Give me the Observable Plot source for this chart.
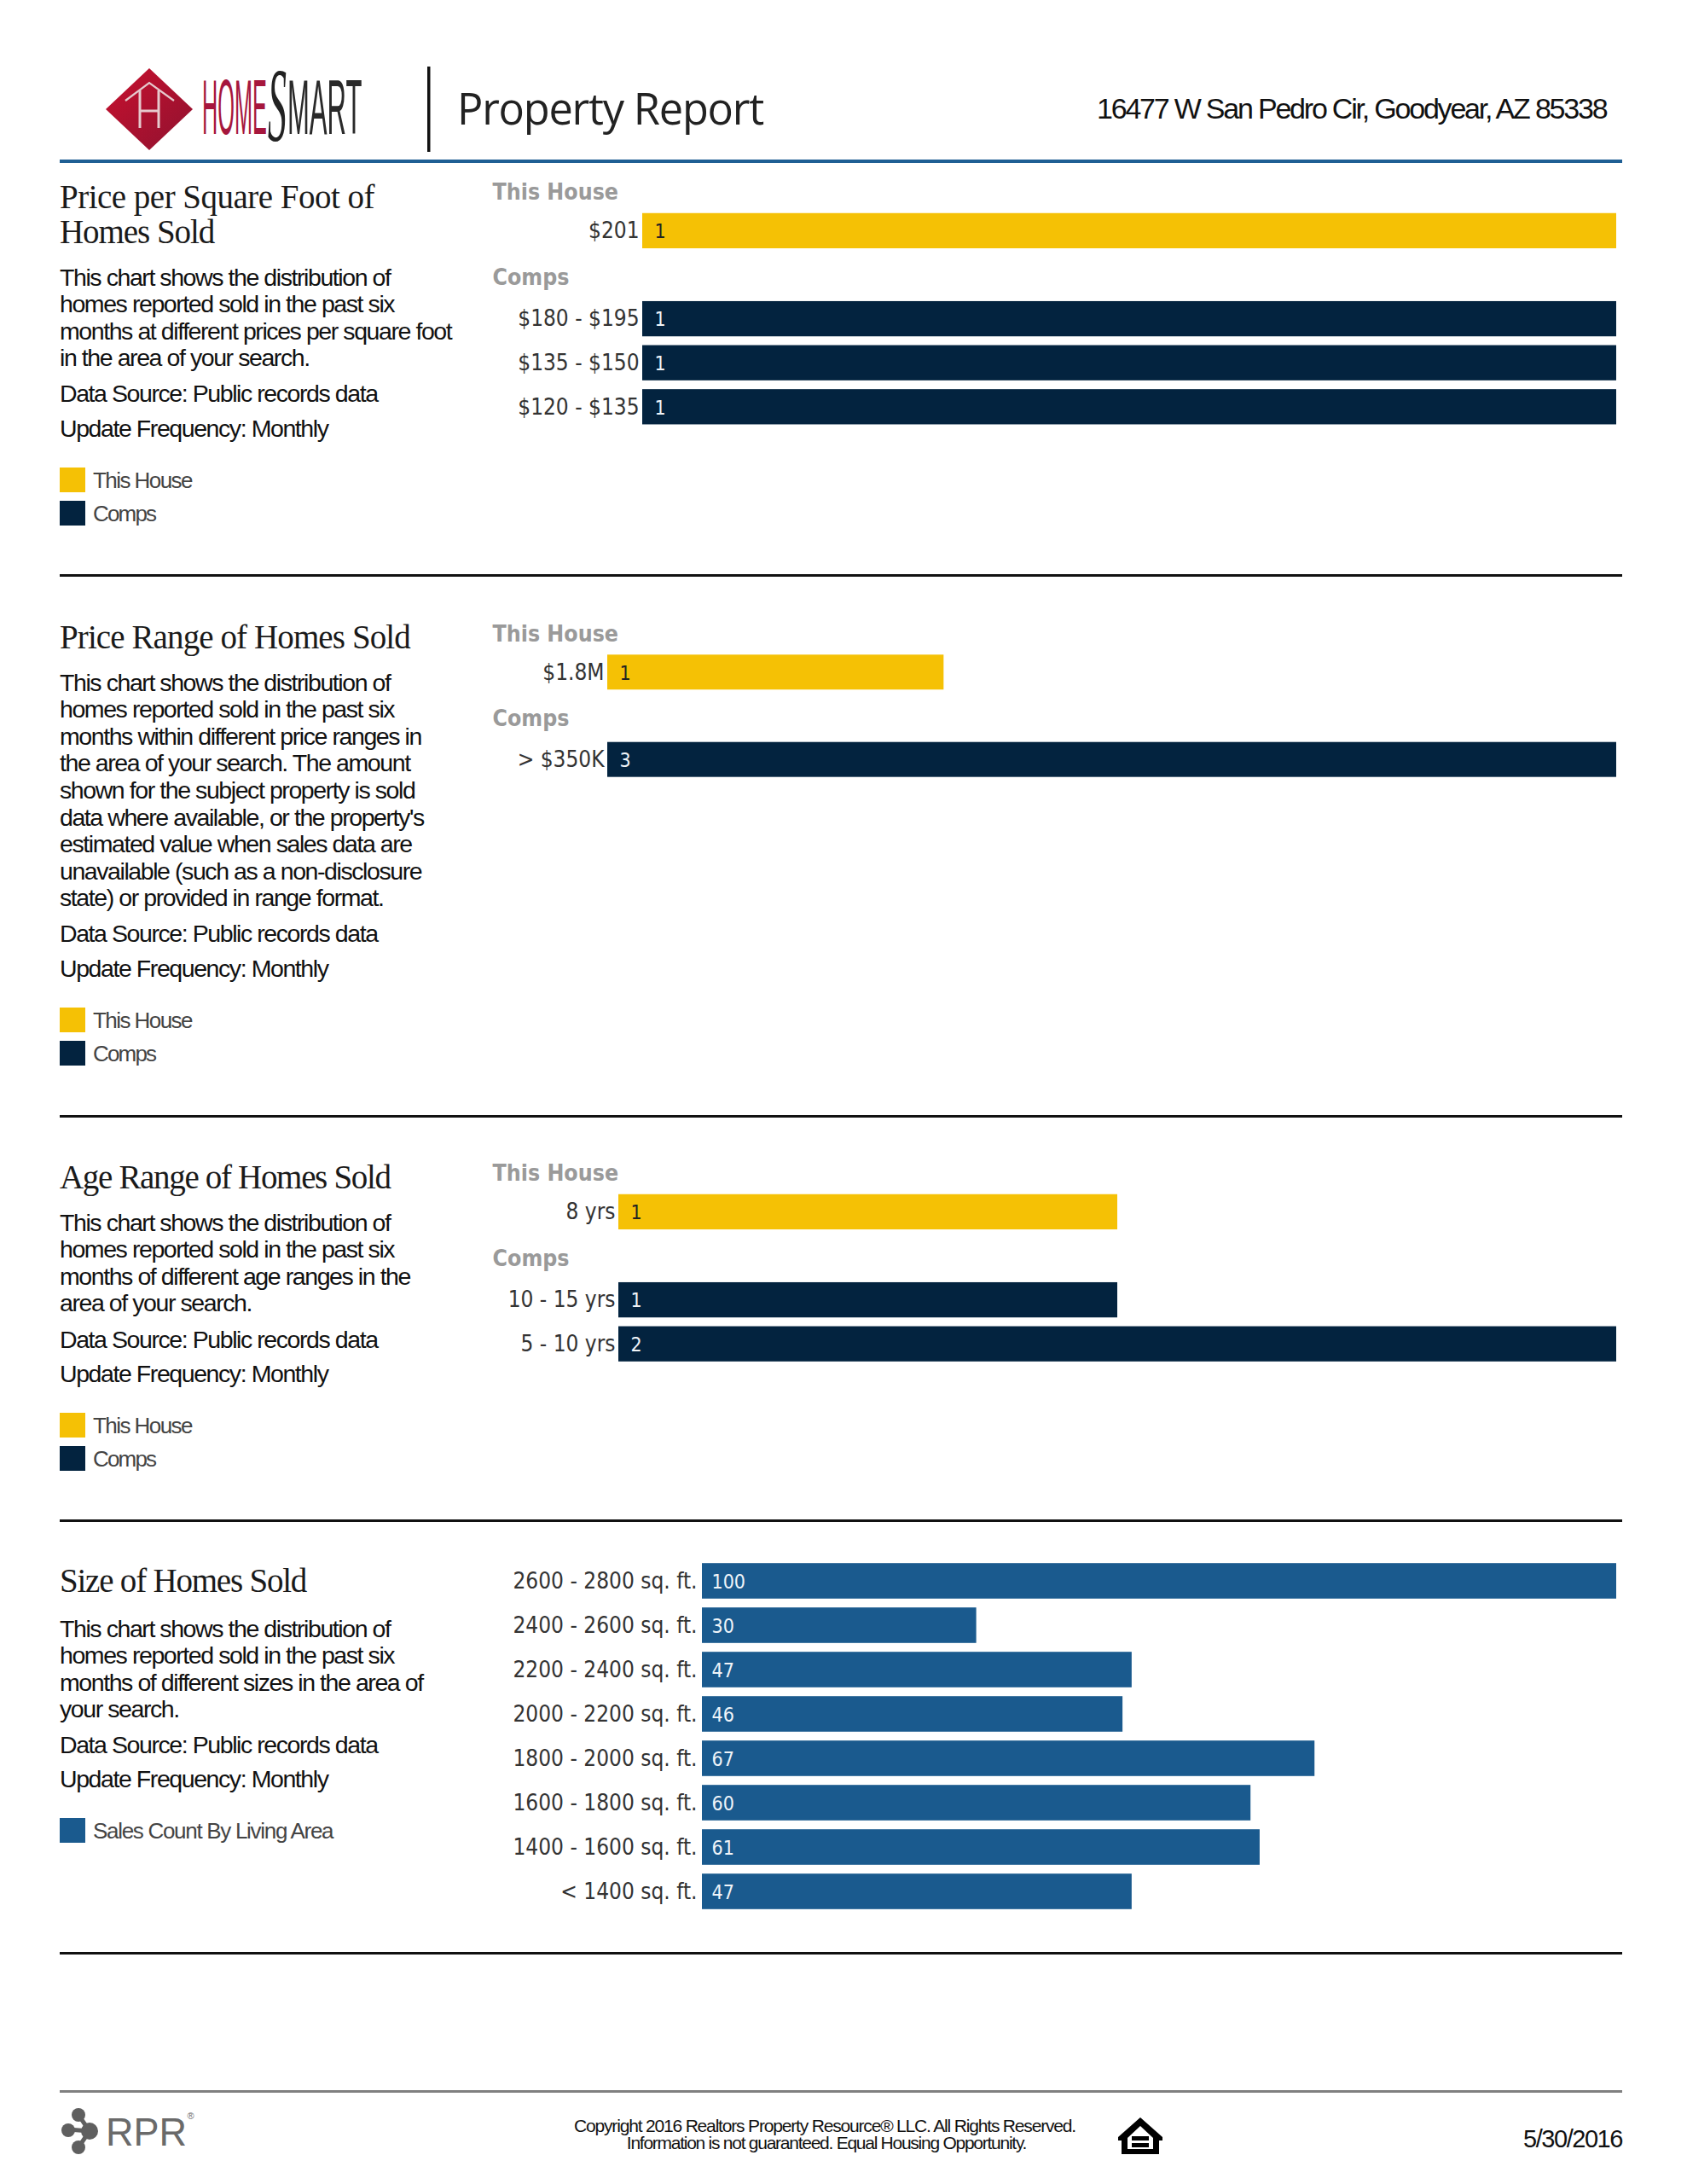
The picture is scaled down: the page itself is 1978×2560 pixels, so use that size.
<!DOCTYPE html>
<html><head><meta charset="utf-8">
<script src="https://cdn.jsdelivr.net/npm/d3@7"></script>
<script src="https://cdn.jsdelivr.net/npm/@observablehq/plot@0.6"></script>
<style>
html,body{margin:0;padding:0;background:#fff}
#page{position:relative;width:1978px;height:2560px;overflow:hidden;font-family:"Liberation Sans",Arial,sans-serif;color:#111}
.t{position:absolute;white-space:nowrap;height:0;line-height:0}
.title{font-family:"Liberation Serif",serif;font-size:39px;letter-spacing:-.03em;color:#1a1a1a}
.body{font-size:28.5px;letter-spacing:-.05em;color:#111}
.leg{font-size:26px;letter-spacing:-.06em;color:#444}
.sw{position:absolute;width:30px;height:29px;left:70px}
.rule{position:absolute;left:70px;width:1832px}
#page svg{position:absolute}
</style></head><body>
<div id="page"></div>
<script>
// ---- data ----
const thisHouse = "This House", comps = "Comps";
const ppsfHouseLabels = ["$201"], ppsfHouseCounts = [1];
const ppsfCompLabels = ["$180 - $195", "$135 - $150", "$120 - $135"], ppsfCompCounts = [1, 1, 1];
const priceHouseLabels = ["$1.8M"], priceHouseCounts = [1];
const priceCompLabels = ["> $350K"], priceCompCounts = [3];
const ageHouseLabels = ["8 yrs"], ageHouseCounts = [1];
const ageCompLabels = ["10 - 15 yrs", "5 - 10 yrs"], ageCompCounts = [1, 2];
const sizeLabels = ["2600 - 2800 sq. ft.", "2400 - 2600 sq. ft.", "2200 - 2400 sq. ft.", "2000 - 2200 sq. ft.", "1800 - 2000 sq. ft.", "1600 - 1800 sq. ft.", "1400 - 1600 sq. ft.", "< 1400 sq. ft."];
const sizeCounts = [100, 30, 47, 46, 67, 60, 61, 47];

const YELLOW = "#f5c105", NAVY = "#03233f", BLUE = "#1a5a8e";
const page = document.getElementById("page");

function put(cls, text, x, y, extra = "") {
  const d = document.createElement("div");
  d.className = "t " + cls;
  d.textContent = text;
  d.style.cssText = `left:${x}px;top:${y}px;${extra}`;
  page.appendChild(d);
}
function box(cls, css) {
  const d = document.createElement("div");
  d.className = cls;
  d.style.cssText = css;
  page.appendChild(d);
}

// ---- chart panels ----
const LEFT = 570, RIGHT_EDGE = 1895;
function panel({top, barX, pitch, rows, max, padLeft = 4, valueDx = 14}) {
  const headings = rows.filter(r => r.heading).map(r => r.key);
  const bars = rows.filter(r => !r.heading);
  const heading = (list, dy) => Plot.text(list, {x: () => 0, y: d => d, text: d => d, textAnchor: "start", dx: 577 - barX, dy, fontSize: 26.5, fontWeight: "bold", fill: "#9a9a9a"});
  const svg = Plot.plot({
    width: RIGHT_EDGE - LEFT,
    height: rows.length * pitch,
    marginLeft: barX - LEFT, marginRight: 0, marginTop: 0, marginBottom: 0,
    style: {fontFamily: "'DejaVu Sans Condensed','DejaVu Sans',sans-serif", background: "transparent", overflow: "visible"},
    x: {domain: [0, max], axis: null},
    y: {domain: rows.map(r => r.key), paddingInner: 0.2, paddingOuter: 0.1, round: false, label: null},
    marks: [
      Plot.barX(bars, {x: "value", y: "key", fill: "color"}),
      Plot.axisY({tickSize: 0, tickPadding: padLeft, fontSize: 26, color: "#333",
        tickFormat: d => headings.includes(d) ? "" : d, label: null}),
      Plot.text(bars, {x: () => 0, y: "key", text: d => String(d.value), dx: valueDx, dy: 1, textAnchor: "start", fontSize: 23, fill: d => d.color === YELLOW ? "#222" : "#f0f4f8"}),
      heading(headings.filter(h => h === thisHouse), 6),
      heading(headings.filter(h => h === comps), 3)
    ]
  });
  svg.style.left = LEFT + "px";
  svg.style.top = top + "px";
  page.appendChild(svg);
}
function rowsFor(hLabels, hVals, cLabels, cVals) {
  return [
    {key: thisHouse, heading: true},
    ...hLabels.map((l, i) => ({key: l, value: hVals[i], color: YELLOW})),
    {key: comps, heading: true},
    ...cLabels.map((l, i) => ({key: l, value: cVals[i], color: NAVY}))
  ];
}
panel({top: 193, barX: 753, pitch: 51.6, max: 1, rows: rowsFor(ppsfHouseLabels, ppsfHouseCounts, ppsfCompLabels, ppsfCompCounts)});
panel({top: 710.5, barX: 712, pitch: 51.2, max: 3, rows: rowsFor(priceHouseLabels, priceHouseCounts, priceCompLabels, priceCompCounts)});
panel({top: 1343, barX: 725, pitch: 51.6, max: 2, rows: rowsFor(ageHouseLabels, ageHouseCounts, ageCompLabels, ageCompCounts)});
panel({top: 1827, barX: 823, pitch: 52, max: 100, padLeft: 6, valueDx: 11, rows: sizeLabels.map((l, i) => ({key: l, value: sizeCounts[i], color: BLUE}))});

// ---- left column text ----
const src = "Data Source: Public records data", upd = "Update Frequency: Monthly";
const sections = [
 {title: [["Price per Square Foot of", 231, -.013], ["Homes Sold", 272, -.027]],
  body: ["This chart shows the distribution of", "homes reported sold in the past six", "months at different prices per square foot", "in the area of your search."], bodyY: 324.5, srcY: 460.5, updY: 501.5,
  legend: [[thisHouse, YELLOW, 563, -.06], [comps, NAVY, 602, -.07]]},
 {title: [["Price Range of Homes Sold", 747, -.023]],
  body: ["This chart shows the distribution of", "homes reported sold in the past six", "months within different price ranges in", "the area of your search. The amount", "shown for the subject property is sold", "data where available, or the property's", "estimated value when sales data are", "unavailable (such as a non-disclosure", "state) or provided in range format."], bodyY: 799.5, srcY: 1093.5, updY: 1134.5,
  legend: [[thisHouse, YELLOW, 1195.5, -.06], [comps, NAVY, 1234.5, -.07]]},
 {title: [["Age Range of Homes Sold", 1379.5, -.034]],
  body: ["This chart shows the distribution of", "homes reported sold in the past six", "months of different age ranges in the", "area of your search."], bodyY: 1432.5, srcY: 1569.5, updY: 1610,
  legend: [[thisHouse, YELLOW, 1671, -.06], [comps, NAVY, 1710, -.07]]},
 {title: [["Size of Homes Sold", 1853, -.031]],
  body: ["This chart shows the distribution of", "homes reported sold in the past six", "months of different sizes in the area of", "your search."], bodyY: 1908.5, srcY: 2044.5, updY: 2085,
  legend: [["Sales Count By Living Area", BLUE, 2146, -.05]]}
];
for (const s of sections) {
  for (const [t, y, ls] of s.title) put("title", t, 70, y, `letter-spacing:${ls}em`);
  s.body.forEach((t, i) => put("body", t, 70, s.bodyY + i * 31.6));
  put("body", src, 70, s.srcY);
  put("body", upd, 70, s.updY);
  for (const [t, c, y, ls] of s.legend) {
    box("sw", `top:${y - 15}px;background:${c}`);
    put("leg", t, 109, y, `letter-spacing:${ls}em`);
  }
}

// ---- rules ----
box("rule", "top:187px;height:4px;background:#1f5f94");
for (const y of [673, 1306.5, 1780.5, 2288]) box("rule", `top:${y}px;height:3px;background:#111`);
box("rule", "top:2450px;height:3px;background:#808080");

// ---- header / footer text ----
put("", "Property Report", 536, 127, "font-family:'Open Sans',sans-serif;font-size:50.5px;letter-spacing:-.024em;color:#222");
put("", "16477 W San Pedro Cir, Goodyear, AZ 85338", 1286, 127, "font-size:34px;letter-spacing:-.065em;color:#111");
put("", "Copyright 2016 Realtors Property Resource® LLC. All Rights Reserved.", 967, 2492, "transform:translateX(-50%);font-size:21px;letter-spacing:-.056em;color:#111");
put("", "Information is not guaranteed. Equal Housing Opportunity.", 969, 2512, "transform:translateX(-50%);font-size:21px;letter-spacing:-.06em;color:#111");
put("", "5/30/2016", 1786, 2507, "font-size:29px;letter-spacing:-.05em;color:#111");

// ---- logos ----
const art = document.createElementNS("http://www.w3.org/2000/svg", "svg");
art.setAttribute("width", 1978); art.setAttribute("height", 2560);
art.style.cssText = "left:0;top:0;pointer-events:none";
art.innerHTML = `
<defs><linearGradient id="red" x1="0" y1="0" x2="1" y2="1"><stop offset="0" stop-color="#c8102e"/><stop offset="1" stop-color="#8f1230"/></linearGradient></defs>
<polygon points="175,80 226,128 175,176 124,128" fill="url(#red)"/>
<g fill="none" stroke="#e6c9cd" stroke-width="2.2">
<path d="M147,118 L175,97 L204,118"/><path d="M164,106 V150 M186,106 V150 M164,130 H186" stroke-width="3"/>
</g>
<rect x="501" y="78" width="3.5" height="100" fill="#111"/>
<text transform="translate(237,157) scale(.281,1)" font-family="Liberation Sans" font-size="90" fill="#a6173d">HOME</text>
<text transform="translate(314,165) scale(.36,1)" font-family="Liberation Serif" font-style="italic" font-size="122" fill="#222">S</text>
<text transform="translate(337,157) scale(.345,1)" font-family="Liberation Sans" font-size="90" fill="#2a2a2a">MART</text>
<g fill="#5f5f5f">
<path d="M92,2479 L105,2498 L92,2517 M80,2496 L105,2498" fill="none" stroke="#5f5f5f" stroke-width="5"/>
<circle cx="80" cy="2497" r="8"/><circle cx="92" cy="2479" r="8"/><circle cx="92" cy="2517" r="8"/><circle cx="105" cy="2498" r="10"/>
</g>
<text x="124" y="2515" font-family="Liberation Sans" font-size="46" textLength="95" lengthAdjust="spacingAndGlyphs" fill="#6a6a6a">RPR</text>
<text x="219.5" y="2484" font-family="Liberation Sans" font-size="11" fill="#6a6a6a">®</text>
<path fill-rule="evenodd" d="M1337,2482 L1363,2505 V2509 L1359,2509 V2525 H1315 V2509 L1311,2509 V2505 Z M1337,2492 L1322,2506 V2519 H1352 V2506 Z" fill="#000"/>
<rect x="1327" y="2504" width="20" height="5" fill="#000"/><rect x="1327" y="2512" width="20" height="5" fill="#000"/>
`;
page.appendChild(art);
</script>
</body></html>
